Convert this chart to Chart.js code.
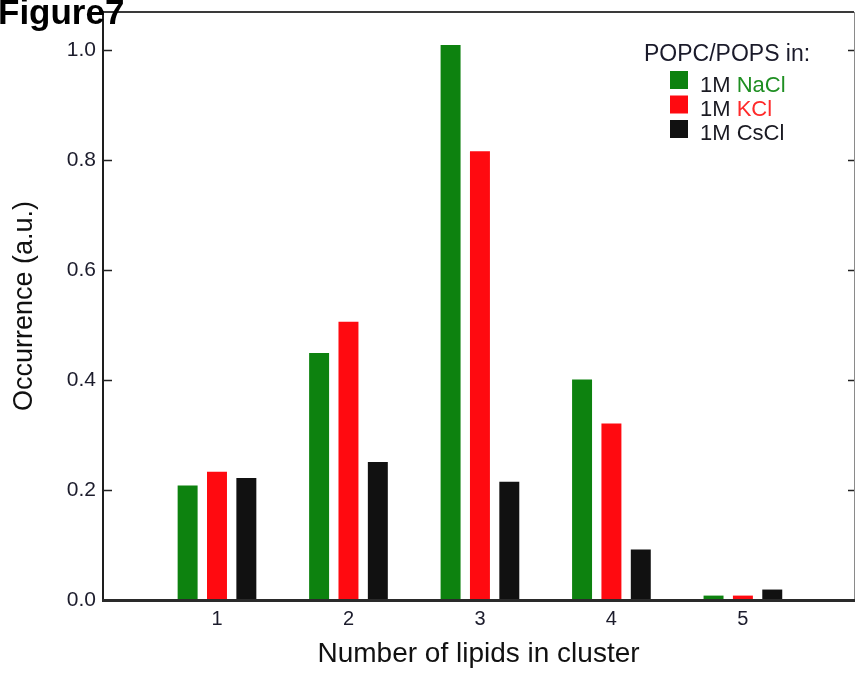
<!DOCTYPE html>
<html>
<head>
<meta charset="utf-8">
<script src="https://cdn.jsdelivr.net/npm/chart.js@4"></script>
<style>
  html, body { margin: 0; padding: 0; background: #fff; }
</style>
</head>
<body>
<canvas id="graficoClusters" width="857" height="677"></canvas>
<script>
// Dados
const tamanhosCluster = [1, 2, 3, 4, 5];
const ocorrenciaNaCl = [0.208, 0.449, 1.009, 0.401, 0.008];
const ocorrenciaKCl = [0.233, 0.506, 0.816, 0.321, 0.008];
const ocorrenciaCsCl = [0.222, 0.251, 0.215, 0.092, 0.019];
const ticksY = [0.0, 0.2, 0.4, 0.6, 0.8, 1.0];
const sais = ["NaCl", "KCl", "CsCl"];
const concentracao = "1M";
const tituloLegenda = "POPC/POPS in:";

const FONTE = "'Liberation Sans', Arial, sans-serif";
const coresBarras = ["#0d820f", "#ff0a10", "#111111"];
const coresTextoSal = ["#1f8f22", "#ff2a2a", "#1a1a22"];

function serie(valores) {
  return tamanhosCluster.map((x, i) => ({ x: x, y: valores[i] }));
}

// Moldura, ticks internos, legenda e rótulo da figura
const molduraPlugin = {
  id: "moldura",
  afterDraw(chart) {
    const ctx = chart.ctx;
    const a = chart.chartArea;
    const escalaY = chart.scales.y;
    ctx.save();

    // topo
    ctx.strokeStyle = "#3a3a3a";
    ctx.lineWidth = 2;
    ctx.beginPath();
    ctx.moveTo(a.left, a.top);
    ctx.lineTo(a.right, a.top);
    ctx.stroke();

    // direita
    ctx.strokeStyle = "#8a8a8a";
    ctx.lineWidth = 1;
    ctx.beginPath();
    ctx.moveTo(a.right + 0.5, a.top);
    ctx.lineTo(a.right + 0.5, a.bottom);
    ctx.stroke();

    // esquerda
    ctx.strokeStyle = "#1e1e1e";
    ctx.lineWidth = 2;
    ctx.beginPath();
    ctx.moveTo(a.left, a.top - 1);
    ctx.lineTo(a.left, a.bottom + 1);
    ctx.stroke();

    // base
    ctx.strokeStyle = "#2a2a2a";
    ctx.lineWidth = 3;
    ctx.beginPath();
    ctx.moveTo(a.left - 1, a.bottom + 0.5);
    ctx.lineTo(a.right + 1, a.bottom + 0.5);
    ctx.stroke();

    // ticks para dentro
    ctx.strokeStyle = "#222";
    ctx.lineWidth = 1.5;
    ticksY.forEach((v) => {
      if (v === 0) return;
      const y = Math.round(escalaY.getPixelForValue(v)) + 0.5;
      ctx.beginPath();
      ctx.moveTo(a.left, y);
      ctx.lineTo(a.left + 9, y);
      ctx.moveTo(a.right, y);
      ctx.lineTo(a.right - 6, y);
      ctx.stroke();
    });

    // legenda
    ctx.textBaseline = "alphabetic";
    ctx.textAlign = "left";
    ctx.fillStyle = "#1a1a2a";
    ctx.font = "23px " + FONTE;
    ctx.fillText(tituloLegenda, a.right - 210, 61);
    ctx.font = "22px " + FONTE;
    chart.data.datasets.forEach((ds, i) => {
      const topo = 71 + i * 24.5;
      ctx.fillStyle = ds.backgroundColor;
      ctx.fillRect(a.right - 184, topo, 18, 18);
      const base = 92 + i * 24;
      const prefixo = concentracao + " ";
      ctx.fillStyle = "#1a1a22";
      ctx.fillText(prefixo, a.right - 154, base);
      const w = ctx.measureText(prefixo).width;
      ctx.fillStyle = coresTextoSal[i];
      ctx.fillText(sais[i], a.right - 154 + w, base);
    });

    // rótulo da figura
    ctx.fillStyle = "#000";
    ctx.font = "bold 35px " + FONTE;
    ctx.fillText("Figure7", -2, 24);

    ctx.restore();
  },
};

const ctxClusters = document.getElementById("graficoClusters").getContext("2d");

new Chart(ctxClusters, {
  type: "bar",
  data: {
    datasets: sais.map((sal, i) => ({
      label: concentracao + " " + sal,
      data: serie([ocorrenciaNaCl, ocorrenciaKCl, ocorrenciaCsCl][i]),
      backgroundColor: coresBarras[i],
      borderWidth: 0,
    })),
  },
  options: {
    responsive: false,
    animation: false,
    layout: { padding: { top: 12, right: 3, left: 0, bottom: 0 } },
    datasets: {
      bar: { categoryPercentage: 0.67, barPercentage: 0.68 },
    },
    plugins: {
      legend: { display: false },
      tooltip: { enabled: false },
    },
    scales: {
      x: {
        type: "linear",
        offset: false,
        min: 0.133,
        max: 5.845,
        afterBuildTicks: (s) => {
          s.ticks = tamanhosCluster.map((v) => ({ value: v }));
        },
        afterFit: (s) => {
          s.height = 77;
          s.paddingLeft = 0;
          s.paddingRight = 0;
        },
        grid: { display: false, drawTicks: false, offset: false },
        border: { display: false },
        ticks: {
          padding: 7,
          color: "#1c1c2c",
          font: { family: FONTE, size: 20 },
        },
        title: {
          display: true,
          text: "Number of lipids in cluster",
          color: "#111",
          font: { family: FONTE, size: 28 },
          padding: { top: 0, bottom: 6 },
        },
      },
      y: {
        min: 0,
        max: 1.069,
        afterBuildTicks: (s) => {
          s.ticks = ticksY.map((v) => ({ value: v }));
        },
        afterFit: (s) => {
          s.width = 103;
          s.paddingTop = 0;
          s.paddingBottom = 0;
        },
        grid: { display: false, drawTicks: false },
        border: { display: false },
        ticks: {
          padding: 7,
          color: "#1c1c2c",
          font: { family: FONTE, size: 21 },
          callback: (v) => Number(v).toFixed(1),
        },
        title: {
          display: true,
          text: "Occurrence (a.u.)",
          color: "#111",
          font: { family: FONTE, size: 27 },
          padding: { top: 8, bottom: 0 },
        },
      },
    },
  },
  plugins: [molduraPlugin],
});
</script>
</body>
</html>
